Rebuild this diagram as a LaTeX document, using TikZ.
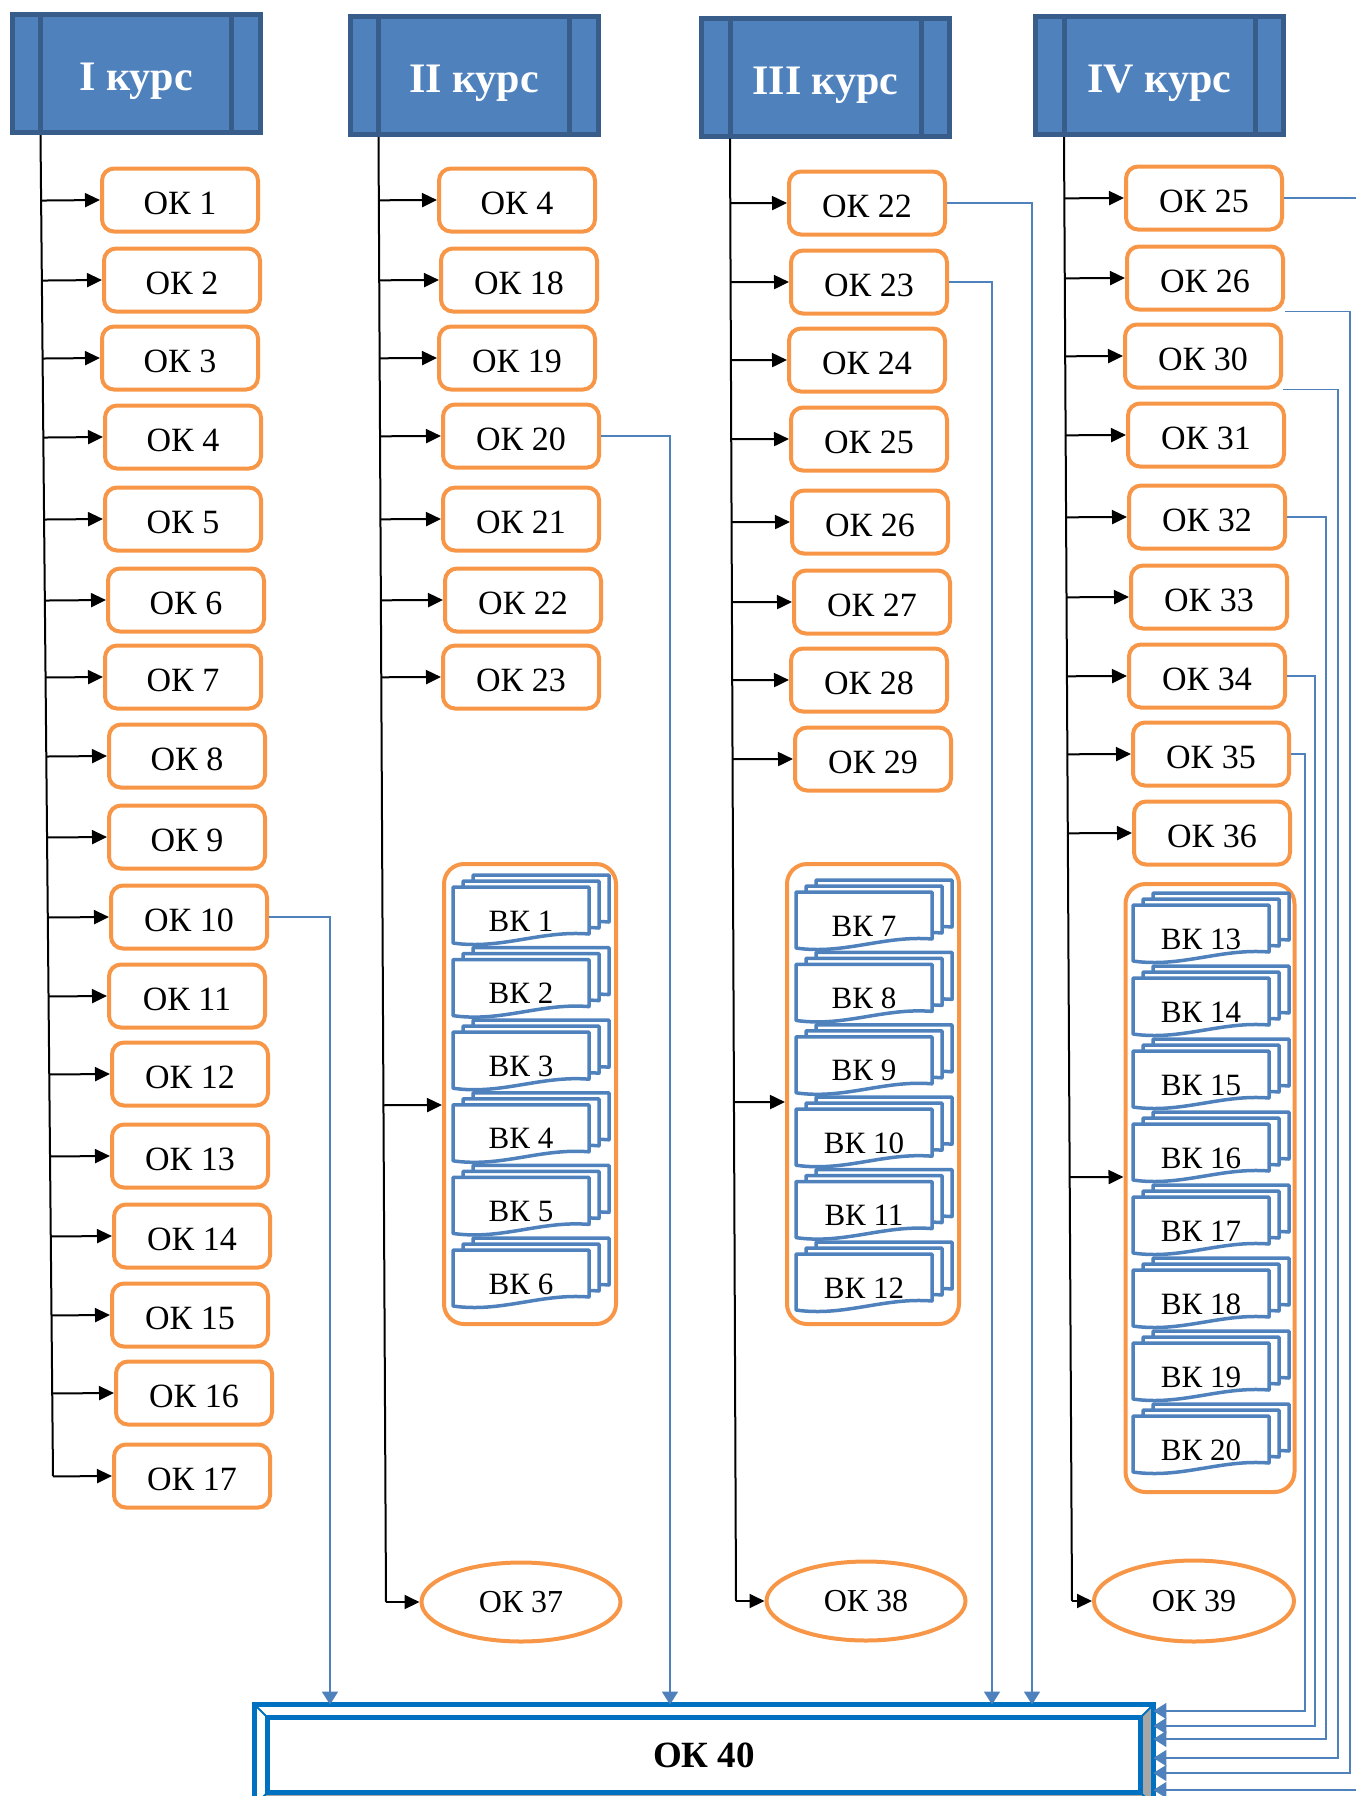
\documentclass[tikz,border=0pt]{standalone}
\usepackage{fontspec}
\setmainfont{Liberation Serif}
\usetikzlibrary{arrows.meta,calc,shapes.geometric}

\definecolor{okorange}{HTML}{F79646}
\definecolor{kursblue}{HTML}{4F81BD}
\definecolor{kursedge}{HTML}{385D8A}
\definecolor{finblue}{HTML}{0070C0}
\definecolor{bevelgray}{HTML}{A6A6A6}

\newcommand\vkdoc[4]{%
  \foreach \d in {20,10,0}
    \draw[vkpage,shift={({#2+\d},{#3-0.6*\d})}]
      (-68,27) -- (-68,-29) -- (68,-29) -- (68,18)
      .. controls (20,14) and (-20,34) .. (-68,27) -- cycle;
  \node[vktext] (#1) at (#2,{#3+5}) {#4};}

\begin{document}
\begin{tikzpicture}[x=0.5pt,y=-0.5pt,
  kurs/.style={rectangle,fill=kursblue,draw=kursedge,line width=2.5pt,
    minimum width=124pt,minimum height=59pt,text=white,
    text height=17.4pt,text depth=0pt,
    font=\fontsize{21}{24}\selectfont\bfseries},
  ok/.style={rectangle,rounded corners=6pt,draw=okorange,line width=2pt,
    fill=white,minimum width=78pt,minimum height=31.5pt,
    text height=14.6pt,text depth=0pt,
    font=\fontsize{17}{20}\selectfont},
  okoval/.style={ellipse,draw=okorange,line width=2pt,inner sep=0pt,
    minimum width=99.5pt,minimum height=39.5pt,
    font=\fontsize{16}{19}\selectfont},
  vkgroup/.style={rectangle,rounded corners=10pt,draw=okorange,line width=2pt},
  vkpage/.style={draw=kursblue,line width=1.75pt,fill=white,line join=round},
  vktext/.style={inner sep=0pt,font=\fontsize{15.5}{18}\selectfont},
  finbox/.style={rectangle,fill=white,minimum width=449pt,minimum height=50pt,
    font=\fontsize{18.5}{22}\selectfont\bfseries},
  finedge/.style={draw=finblue,line width=2.5pt},
  trunk/.style={line width=1pt},
  feed/.style={-{Triangle[length=7.5pt,width=7pt]},line width=1pt},
  link/.style={-{Triangle[length=6.5pt,width=8pt]},draw=kursblue,line width=0.75pt}]
\useasboundingbox (0,0) rectangle (1356,1796);

\node[kurs] (h1) at (136,73.5) {I курс};
\node[kurs] (h2) at (474,75.5) {II курс};
\node[kurs] (h3) at (825.5,77) {III курс};
\node[kurs] (h4) at (1159.5,75.5) {IV курс};
\foreach \h in {h1,h2,h3,h4}{
  \draw[kursedge,line width=2.5pt] ([xshift=15.5pt]\h.north west) -- ([xshift=15.5pt]\h.south west);
  \draw[kursedge,line width=2.5pt] ([xshift=-15.5pt]\h.north east) -- ([xshift=-15.5pt]\h.south east);
}

\coordinate (t1a) at ([xshift=15.5pt]h1.south west);
\coordinate (t1b) at (53,1476);
\coordinate (t2a) at ([xshift=15.5pt]h2.south west);
\coordinate (t2b) at (386,1602);
\coordinate (t3a) at ([xshift=15.5pt]h3.south west);
\coordinate (t3b) at (736,1601);
\coordinate (t4a) at ([xshift=15.5pt]h4.south west);
\coordinate (t4b) at (1072,1601);
\draw[trunk] (t1a) -- (t1b);
\draw[trunk] (t2a) -- (t2b);
\draw[trunk] (t3a) -- (t3b);
\draw[trunk] (t4a) -- (t4b);

\foreach \n/\x/\y in {1/180/200,2/182/280,3/180/358,4/183/437,5/183/519,
  6/186/600,7/183/677,8/187/756,9/187/837,10/189/917,11/187/996,12/190/1074,
  13/190/1156,14/192/1236,15/190/1315,16/194/1393,17/192/1476}{
  \node[ok] (c1ok\n) at (\x,\y) {ОК \n};
  \draw[feed] ($(t1a)!(c1ok\n.west)!(t1b)$) -- (c1ok\n.west);
}
\foreach \n/\x/\y in {4/517/200,18/519/280,19/517/358,20/521/436,21/521/519,
  22/523/600,23/521/677}{
  \node[ok] (c2ok\n) at (\x,\y) {ОК \n};
  \draw[feed] ($(t2a)!(c2ok\n.west)!(t2b)$) -- (c2ok\n.west);
}
\foreach \n/\x/\y in {22/867/203,23/869/282,24/867/360,25/869/439,26/870/522,
  27/872/602,28/869/680,29/873/759}{
  \node[ok] (c3ok\n) at (\x,\y) {ОК \n};
  \draw[feed] ($(t3a)!(c3ok\n.west)!(t3b)$) -- (c3ok\n.west);
}
\foreach \n/\x/\y in {25/1204/198,26/1205/278,30/1203/356,31/1206/435,
  32/1207/517,33/1209/597,34/1207/676,35/1211/754,36/1212/833}{
  \node[ok] (c4ok\n) at (\x,\y) {ОК \n};
  \draw[feed] ($(t4a)!(c4ok\n.west)!(t4b)$) -- (c4ok\n.west);
}

\node[vkgroup,minimum width=86pt,minimum height=230pt] (grp2) at (530,1094) {};
\node[vkgroup,minimum width=86pt,minimum height=230pt] (grp3) at (873,1094) {};
\node[vkgroup,minimum width=84.5pt,minimum height=304pt] (grp4) at (1210,1188) {};
\foreach \k in {1,...,6} \vkdoc{vk\k}{521}{916+72.6*(\k-1)}{ВК \k};
\foreach \k in {7,...,12} \vkdoc{vk\k}{864}{921+72.4*(\k-7)}{ВК \k};
\foreach \k in {13,...,20} \vkdoc{vk\k}{1201}{934+73*(\k-13)}{ВК \k};
\coordinate (g2in) at ([yshift=-5.5pt]grp2.west);
\coordinate (g3in) at ([yshift=-4pt]grp3.west);
\coordinate (g4in) at ([yshift=5.5pt]grp4.west);
\draw[feed] ($(t2a)!(g2in)!(t2b)$) -- (g2in);
\draw[feed] ($(t3a)!(g3in)!(t3b)$) -- (g3in);
\draw[feed] ($(t4a)!(g4in)!(t4b)$) -- (g4in);

\node[okoval] (c2ok37) at (521,1602) {ОК 37};
\node[okoval] (c3ok38) at (866,1601) {ОК 38};
\node[okoval,minimum width=100pt,minimum height=40.5pt] (c4ok39) at (1194,1601) {ОК 39};
\draw[feed] (t2b) -- (c2ok37.west);
\draw[feed] (t3b) -- (c3ok38.west);
\draw[feed] (t4b) -- (c4ok39.west);

\node[finbox] (ok40) at (704,1755) {ОК 40};
\fill[bevelgray] (ok40.north east) -- ([shift={(-6.5pt,-6.5pt)}]ok40.north east)
  -- ([shift={(-6.5pt,6.5pt)}]ok40.south east) -- (ok40.south east) -- cycle;
\fill[bevelgray] (ok40.south west) -- ([shift={(6.5pt,6.5pt)}]ok40.south west)
  -- ([shift={(-6.5pt,6.5pt)}]ok40.south east) -- (ok40.south east) -- cycle;
\draw[finedge] (ok40.north west) rectangle (ok40.south east);
\draw[finedge] ([shift={(6.5pt,-6.5pt)}]ok40.north west) rectangle ([shift={(-6.5pt,6.5pt)}]ok40.south east);
\draw[finblue,line width=1pt] (ok40.north west) -- ++(6.5pt,-6.5pt);
\draw[finblue,line width=1pt] (ok40.north east) -- ++(-6.5pt,-6.5pt);
\draw[finblue,line width=1pt] (ok40.south west) -- ++(6.5pt,6.5pt);
\draw[finblue,line width=1pt] (ok40.south east) -- ++(-6.5pt,6.5pt);

\draw[link] (c1ok10.east) -| (ok40.north -| 330,0);
\draw[link] (c2ok20.east) -| (ok40.north -| 670,0);
\draw[link] (c3ok23.east) -| (ok40.north -| 992,0);
\draw[link] (c3ok22.east) -| (ok40.north -| 1032,0);
\draw[link] (c4ok25.east) -- (c4ok25.east -| 1380,0) |- (ok40.east |- 0,1790);
\foreach \b/\xx/\yy in {c4ok26.south east/1350/1773,c4ok30.south east/1338/1758,
  c4ok32.east/1326/1739,c4ok34.east/1315/1726,c4ok35.east/1305/1711}
  \draw[link] (\b) -| (\xx,\yy) -- (ok40.east |- 0,\yy);
\end{tikzpicture}
\end{document}
